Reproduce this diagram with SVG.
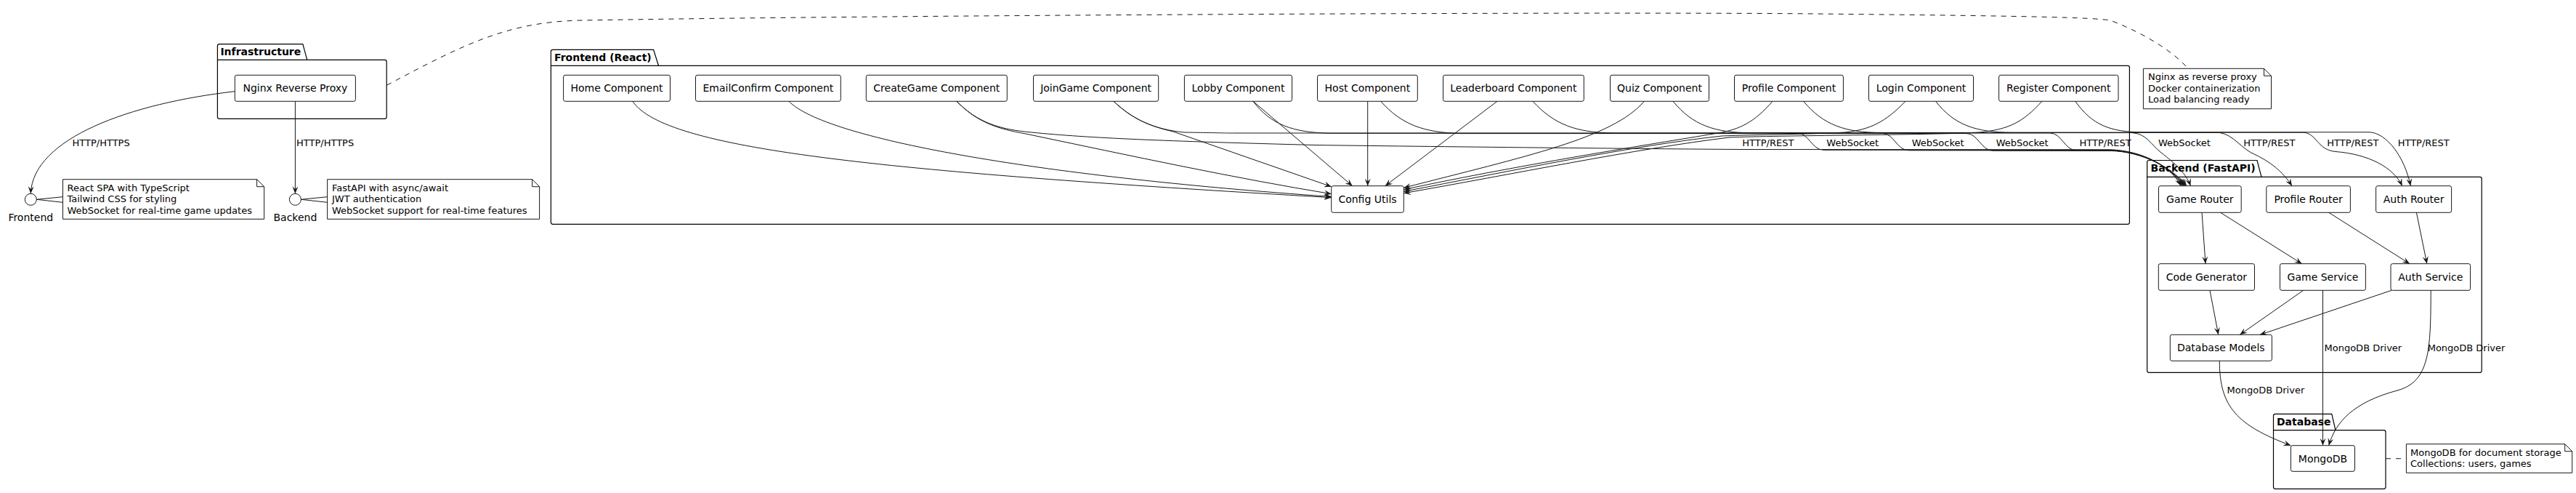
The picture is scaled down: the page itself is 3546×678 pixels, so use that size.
<svg xmlns="http://www.w3.org/2000/svg" width="3546" height="678" viewBox="0 0 3546 678">
<defs>
<marker id="ah" viewBox="0 0 10 8" refX="10" refY="4" markerWidth="10" markerHeight="8" markerUnits="userSpaceOnUse" orient="auto">
<path d="M10,4 L0,0 L4,4 L0,8 Z" fill="#181818"/>
</marker>
<style>
text{font-family:"DejaVu Sans","Liberation Sans",sans-serif;fill:#000}
.n{font-size:14px;text-anchor:middle}
.pl{font-size:14px;font-weight:bold}
.nt{font-size:13px}
.el{font-size:13px}
.box{fill:#fff;stroke:#181818;stroke-width:1}
.pkg{fill:none;stroke:#000;stroke-width:1.2}
.note{fill:#fff;stroke:#181818;stroke-width:1}
.e{fill:none;stroke:#181818;stroke-width:1;marker-end:url(#ah)}
.l{fill:none;stroke:#181818;stroke-width:1}
.d{fill:none;stroke:#181818;stroke-width:1;stroke-dasharray:7,7}
</style>
</defs>
<rect width="3546" height="678" fill="#fff"/>

<g id="pkg-infrastructure">
<path class="pkg" d="M301.9,60.7 L416.8,60.7 L422.8,82.3 L529.7,82.3 Q532.2,82.3 532.2,84.8 L532.2,160.8 Q532.2,163.3 529.7,163.3 L301.9,163.3 Q299.4,163.3 299.4,160.8 L299.4,63.2 Q299.4,60.7 301.9,60.7 Z M299.4,82.3 L422.8,82.3"/>
<text class="pl" x="303.4" y="76">Infrastructure</text>
</g>
<g id="pkg-frontend">
<path class="pkg" d="M760.9,68.3 L899.6,68.3 L906.5,90.3 L2928.9,90.3 Q2931.4,90.3 2931.4,92.8 L2931.4,305.8 Q2931.4,308.3 2928.9,308.3 L760.9,308.3 Q758.4,308.3 758.4,305.8 L758.4,70.8 Q758.4,68.3 760.9,68.3 Z M758.4,90.3 L906.5,90.3"/>
<text class="pl" x="763" y="84">Frontend (React)</text>
</g>
<g id="pkg-backend">
<path class="pkg" d="M2958.1,220.5 L3107,220.5 L3113,243.3 L3413.7,243.3 Q3416.2,243.3 3416.2,245.8 L3416.2,509.8 Q3416.2,512.3 3413.7,512.3 L2958.1,512.3 Q2955.6,512.3 2955.6,509.8 L2955.6,223 Q2955.6,220.5 2958.1,220.5 Z M2955.6,243.3 L3113,243.3"/>
<text class="pl" x="2960.6" y="236">Backend (FastAPI)</text>
</g>
<g id="pkg-database">
<path class="pkg" d="M3132,569.3 L3209.8,569.3 L3215,591.7 L3281.5,591.7 Q3284,591.7 3284,594.2 L3284,669.8 Q3284,672.3 3281.5,672.3 L3132,672.3 Q3129.5,672.3 3129.5,669.8 L3129.5,571.8 Q3129.5,569.3 3132,569.3 Z M3129.5,591.7 L3215,591.7"/>
<text class="pl" x="3134" y="584.5">Database</text>
</g>

<g id="nginx"><rect class="box" x="323.3" y="103.3" width="166.1" height="36" rx="2.5"/><text class="n" x="406.4" y="126.3">Nginx Reverse Proxy</text></g>

<g id="frontend-if"><circle cx="42.3" cy="274.3" r="8" fill="#fff" stroke="#181818" stroke-width="1"/><text class="n" x="42.3" y="304">Frontend</text></g>
<g id="backend-if"><circle cx="406.4" cy="274.3" r="8" fill="#fff" stroke="#181818" stroke-width="1"/><text class="n" x="406.4" y="304">Backend</text></g>

<g id="note-frontend">
<path class="note" d="M86.5,246.7 L353.6,246.7 L363.6,256.7 L363.6,301.3 L86.5,301.3 Z"/>
<path class="l" d="M353.6,246.7 L353.6,256.7 L363.6,256.7"/>
<text class="nt" x="92.5" y="262.5">React SPA with TypeScript</text>
<text class="nt" x="92.5" y="278">Tailwind CSS for styling</text>
<text class="nt" x="92.5" y="293.5">WebSocket for real-time game updates</text>
</g>
<g id="note-backend">
<path class="note" d="M450.6,246.7 L732.6,246.7 L742.6,256.7 L742.6,301.3 L450.6,301.3 Z"/>
<path class="l" d="M732.6,246.7 L732.6,256.7 L742.6,256.7"/>
<text class="nt" x="457" y="262.5">FastAPI with async/await</text>
<text class="nt" x="457" y="278">JWT authentication</text>
<text class="nt" x="457" y="293.5">WebSocket support for real-time features</text>
</g>
<g id="note-nginx">
<path class="note" d="M2950.4,94.3 L3116.5,94.3 L3126.5,104.3 L3126.5,149.7 L2950.4,149.7 Z"/>
<path class="l" d="M3116.5,94.3 L3116.5,104.3 L3126.5,104.3"/>
<text class="nt" x="2957" y="110.3">Nginx as reverse proxy</text>
<text class="nt" x="2957" y="125.8">Docker containerization</text>
<text class="nt" x="2957" y="141.3">Load balancing ready</text>
</g>
<g id="note-mongodb">
<path class="note" d="M3312.4,610.7 L3530.7,610.7 L3540.7,620.7 L3540.7,650.3 L3312.4,650.3 Z"/>
<path class="l" d="M3530.7,610.7 L3530.7,620.7 L3540.7,620.7"/>
<text class="nt" x="3318" y="626.5">MongoDB for document storage</text>
<text class="nt" x="3318" y="642">Collections: users, games</text>
</g>

<g id="home"><rect class="box" x="775.6" y="103.3" width="146.9" height="36" rx="2.5"/><text class="n" x="849" y="126.3">Home Component</text></g>
<g id="emailconfirm"><rect class="box" x="957.5" y="103.3" width="199.8" height="36" rx="2.5"/><text class="n" x="1057.4" y="126.3">EmailConfirm Component</text></g>
<g id="creategame"><rect class="box" x="1192.3" y="103.3" width="194" height="36" rx="2.5"/><text class="n" x="1289.3" y="126.3">CreateGame Component</text></g>
<g id="joingame"><rect class="box" x="1422.5" y="103.3" width="172.2" height="36" rx="2.5"/><text class="n" x="1508.6" y="126.3">JoinGame Component</text></g>
<g id="lobby"><rect class="box" x="1630.4" y="103.3" width="148.1" height="36" rx="2.5"/><text class="n" x="1704.5" y="126.3">Lobby Component</text></g>
<g id="host"><rect class="box" x="1813.5" y="103.3" width="137.8" height="36" rx="2.5"/><text class="n" x="1882.4" y="126.3">Host Component</text></g>
<g id="leaderboard"><rect class="box" x="1986.5" y="103.3" width="193.8" height="36" rx="2.5"/><text class="n" x="2083.4" y="126.3">Leaderboard Component</text></g>
<g id="quiz"><rect class="box" x="2216.5" y="103.3" width="136" height="36" rx="2.5"/><text class="n" x="2284.5" y="126.3">Quiz Component</text></g>
<g id="profile"><rect class="box" x="2387.5" y="103.3" width="149.9" height="36" rx="2.5"/><text class="n" x="2462.5" y="126.3">Profile Component</text></g>
<g id="login"><rect class="box" x="2572.5" y="103.3" width="144" height="36" rx="2.5"/><text class="n" x="2644.5" y="126.3">Login Component</text></g>
<g id="register"><rect class="box" x="2751.6" y="103.3" width="164.4" height="36" rx="2.5"/><text class="n" x="2833.8" y="126.3">Register Component</text></g>
<g id="config"><rect class="box" x="1832.7" y="255.7" width="99.6" height="36.6" rx="2.5"/><text class="n" x="1882.5" y="279">Config Utils</text></g>

<g id="gamerouter"><rect class="box" x="2971.5" y="255.7" width="113.7" height="36.6" rx="2.5"/><text class="n" x="3028.3" y="279">Game Router</text></g>
<g id="profilerouter"><rect class="box" x="3119.8" y="255.7" width="115.6" height="36.6" rx="2.5"/><text class="n" x="3177.6" y="279">Profile Router</text></g>
<g id="authrouter"><rect class="box" x="3270.6" y="255.7" width="104" height="36.6" rx="2.5"/><text class="n" x="3322.6" y="279">Auth Router</text></g>
<g id="codegen"><rect class="box" x="2971.3" y="362.7" width="132.2" height="36.6" rx="2.5"/><text class="n" x="3037.4" y="386">Code Generator</text></g>
<g id="gameservice"><rect class="box" x="3138.5" y="362.7" width="117.9" height="36.6" rx="2.5"/><text class="n" x="3197.5" y="386">Game Service</text></g>
<g id="authservice"><rect class="box" x="3291" y="362.7" width="109.6" height="36.6" rx="2.5"/><text class="n" x="3345.8" y="386">Auth Service</text></g>
<g id="dbmodels"><rect class="box" x="2987.3" y="460.3" width="140.1" height="36" rx="2.5"/><text class="n" x="3057.3" y="483.3">Database Models</text></g>
<g id="mongodb"><rect class="box" x="3153.4" y="612.7" width="88.1" height="35.6" rx="2.5"/><text class="n" x="3197.5" y="635.5">MongoDB</text></g>

<g id="connectors">
<path class="d" d="M532.3,117.3 C640,60 700,30 800,28 C1200,21 2200,16 2500,19 C2800,22 2880,24 2905,28 C2950,45 2990,70 3010,92"/>
<path class="d" d="M3284,630.7 L3312.4,630.7"/>
<path class="l" d="M50.3,274.3 L86.5,270.7 M50.3,274.3 L86.5,278.3"/>
<path class="l" d="M414.4,274.3 L450.6,270.7 M414.4,274.3 L450.6,278.3"/>

<path class="e" d="M323.3,125.7 C180,142 45,190 42.3,266.3"/>
<path class="e" d="M406.4,139.3 L406.4,266.3"/>

<path class="e" d="M870.9,139.3 C915,205 1200,235 1832.7,271.7"/>
<path class="e" d="M1086,139.3 C1135,190 1420,242 1832.7,270.5"/>
<path class="e" d="M1316.9,139.3 C1345,168 1372,177 1412,184 C1560,215 1700,245 1832.7,266.7"/>
<path class="e" d="M1533,139.3 C1560,165 1585,174 1615,181 L1832.7,256.7"/>
<path class="e" d="M1725,139.3 L1861.7,255.7"/>
<path class="e" d="M1882.7,139.3 L1882.7,255.7"/>
<path class="e" d="M2061,139.3 L1906.7,255.7"/>
<path class="e" d="M2263.3,139.3 C2220,190 2100,215 1932.3,258.3"/>
<path class="e" d="M2440,139.3 C2415,168 2395,178 2365,183 C2300,194 2100,225 1932.3,260.7"/>
<path class="e" d="M2623,139.3 C2595,168 2575,178 2540,182 C2480,185 2420,185 2370,187 C2250,200 2080,235 1932.3,263.3"/>
<path class="e" d="M2810.8,139.3 C2785,168 2765,178 2725,182 C2650,186 2450,186 2380,189 C2250,205 2080,240 1932.3,265.7"/>

<path class="e" d="M1316.9,139.3 C1345,168 1375,178 1420,182 C1500,190 1600,194 1810,199.5 C2000,202 2300,205 2400,205.5 L2905,205.8 C2950,207 2990,230 3002,255.7"/>
<path class="e" d="M1533,139.3 C1560,165 1590,178 1630,182 C1700,183 1680,183 1700,183 L2474,183 C2490,183 2494,206 2510,206.3 L2905,206.4 C2950,207.5 2990,230 3004,255.7"/>
<path class="e" d="M1725,139.3 C1750,172 1780,182 1830,183.3 L2591,183.3 C2607,183.3 2611,206.5 2627,206.8 L2905,207 C2950,208 2990,230 3006,255.7"/>
<path class="e" d="M1900.7,139.3 C1930,172 1960,182 2010,183.6 L2707,183.6 C2723,183.6 2727,207 2743,207.2 L2905,207.4 C2950,208.5 2990,231 3008,255.7"/>
<path class="e" d="M2110,139.3 C2140,172 2170,182 2220,183 L2822,183 C2838,183 2842,206.5 2858,206.8 L2905,207 C2950,208 2992,232 3010,255.7"/>
<path class="e" d="M2303,139.3 C2330,172 2360,182.6 2410,182.6 L2935,182.6 C2955,184 2960,198 2975,210 C2995,225 3010,240 3015.4,255.7"/>
<path class="e" d="M2482.6,139.3 C2510,172 2540,182.4 2590,182.4 L3055,182.4 C3075,185 3085,205 3105,213 C3130,225 3145,240 3155,255.7"/>
<path class="e" d="M2664.6,139.3 C2690,172 2720,182.2 2770,182.2 L3172,182.2 C3190,185 3190,206 3215,208.5 C3260,212 3295,230 3306.7,255.7"/>
<path class="e" d="M2856.8,139.3 C2880,172 2905,181.8 2950,181.8 L3262,181.8 C3285,183 3310,215 3318.3,255.7"/>

<path class="e" d="M3031,292.3 L3036,362.7"/>
<path class="e" d="M3056.6,292.3 L3168.6,362.7"/>
<path class="e" d="M3205.7,292.3 L3317,362.7"/>
<path class="e" d="M3326.4,292.3 L3340.8,362.7"/>
<path class="e" d="M3042,399.3 L3053.7,460.3"/>
<path class="e" d="M3170.7,399.3 L3083.3,460.3"/>
<path class="e" d="M3292.2,399.3 L3111,460.3"/>
<path class="e" d="M3197.5,399.3 L3197.5,612.7"/>
<path class="e" d="M3346.2,399.3 C3346,480 3345,525 3300,537 C3240,553 3215,580 3205.7,612.7"/>
<path class="e" d="M3055.3,496.3 C3055,560 3080,585 3153.4,612.7"/>
</g>

<g id="edge-labels">
<text class="el" x="99.5" y="200.7">HTTP/HTTPS</text>
<text class="el" x="408" y="200.7">HTTP/HTTPS</text>
<text class="el" x="2398.3" y="201">HTTP/REST</text>
<text class="el" x="2514.3" y="201">WebSocket</text>
<text class="el" x="2631.7" y="201">WebSocket</text>
<text class="el" x="2747.7" y="201">WebSocket</text>
<text class="el" x="2862.5" y="201">HTTP/REST</text>
<text class="el" x="2971" y="201">WebSocket</text>
<text class="el" x="3088.3" y="201">HTTP/REST</text>
<text class="el" x="3203.3" y="201">HTTP/REST</text>
<text class="el" x="3300.7" y="201">HTTP/REST</text>
<text class="el" x="3199.5" y="483.3">MongoDB Driver</text>
<text class="el" x="3341.7" y="483.3">MongoDB Driver</text>
<text class="el" x="3065.6" y="540.7">MongoDB Driver</text>
</g>
</svg>
